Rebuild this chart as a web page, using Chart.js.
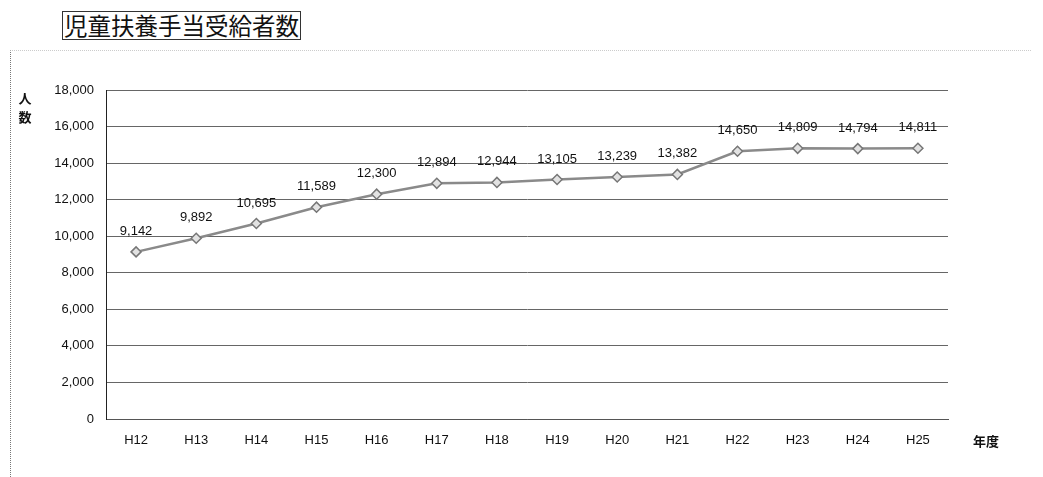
<!DOCTYPE html>
<html>
<head>
<meta charset="utf-8">
<script src="https://cdn.jsdelivr.net/npm/chart.js@4.4.0/dist/chart.umd.min.js"></script>
<style>
  html, body { margin: 0; padding: 0; background: #fff; }
  #wrap { position: relative; width: 1043px; height: 477px; overflow: hidden; }
  #frame {
    position: absolute; left: 10px; top: 50px; width: 1020px; height: 460px;
    border-left: 1px dotted #777; border-top: 1px dotted #ccc;
  }
  #title {
    position: absolute; left: 62px; top: 11px; padding: 0 1px;
    border: 1px solid #333; font: 23.5px "Noto Sans CJK JP", sans-serif;
    line-height: 27px; color: #111;
  }
  canvas { position: absolute; left: 0; top: 0; }
</style>
</head>
<body>
<div id="wrap">
  <div id="frame"></div>
  <div id="title">児童扶養手当受給者数</div>
  <canvas id="chart" width="1043" height="477"></canvas>
</div>
<script>
(function () {
    // 年度ごとの受給者数
    var years = ["H12", "H13", "H14", "H15", "H16", "H17", "H18", "H19", "H20", "H21", "H22", "H23", "H24", "H25"];
    var recipients = [9142, 9892, 10695, 11589, 12300, 12894, 12944, 13105, 13239, 13382, 14650, 14809, 14794, 14811];
    var yMax = 18000,
        yStep = 2000;

    var fontFamily = '"Liberation Sans", "Noto Sans", sans-serif';

    function fmt(n) {
        return n.toLocaleString("en-US");
    }

    // values above each point, plus axis captions
    var labelPlugin = {
        id: "labels",
        afterDatasetsDraw: function (chart) {
            var ctx = chart.ctx;
            var meta = chart.getDatasetMeta(0);
            ctx.save();
            ctx.fillStyle = "#111";
            ctx.font = "13px " + fontFamily;
            ctx.textAlign = "center";
            ctx.textBaseline = "bottom";
            meta.data.forEach(function (pt, i) {
                ctx.fillText(fmt(recipients[i]), pt.x, pt.y - 14);
            });

            ctx.font = "bold 13px \"Noto Sans CJK JP\", sans-serif";
            ctx.textBaseline = "middle";
            ctx.fillText("人", 25, 98);
            ctx.fillText("数", 25, 117);
            ctx.fillText("年度", 986, 441);
            ctx.restore();
        }
    };

    new Chart(document.getElementById("chart").getContext("2d"), {
        type: "line",
        data: {
            labels: years,
            datasets: [{
                data: recipients,
                borderColor: "#8a8a8a",
                borderWidth: 2.5,
                tension: 0,
                pointStyle: "rectRot",
                pointRadius: 5,
                pointBorderWidth: 1.5,
                pointBackgroundColor: "#e2e2e2",
                pointBorderColor: "#777"
            }]
        },
        options: {
            responsive: false,
            animation: false,
            layout: { padding: { left: 0, top: 90, right: 95, bottom: 0 } },
            plugins: {
                legend: { display: false },
                tooltip: { enabled: false }
            },
            scales: {
                x: {
                    offset: true,
                    grid: { display: false, drawTicks: false },
                    border: { color: "#555", width: 1 },
                    ticks: {
                        padding: 14,
                        color: "#111",
                        font: { family: fontFamily, size: 13 }
                    },
                    afterFit: function (scale) { scale.height = 58; }
                },
                y: {
                    min: 0,
                    max: yMax,
                    grid: { color: "#666", lineWidth: 1, drawTicks: false },
                    border: { color: "#222", width: 1 },
                    ticks: {
                        stepSize: yStep,
                        padding: 12,
                        color: "#111",
                        font: { family: fontFamily, size: 13 },
                        callback: function (v) { return fmt(v); }
                    },
                    afterFit: function (scale) { scale.width = 106; }
                }
            }
        },
        plugins: [labelPlugin]
    });
})();
</script>
</body>
</html>
